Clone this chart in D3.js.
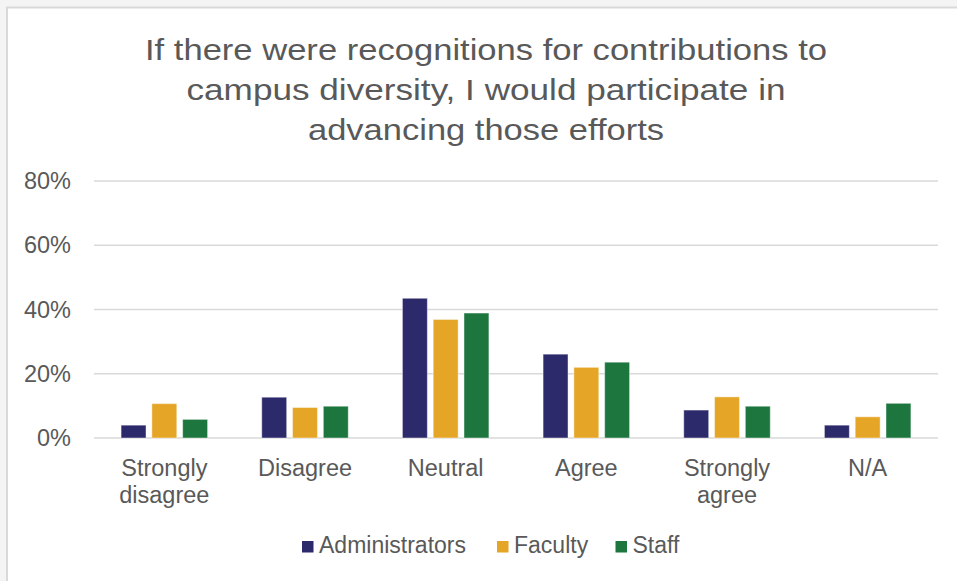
<!DOCTYPE html>
<html><head><meta charset="utf-8">
<script src="https://cdn.jsdelivr.net/npm/d3@7"></script>
<style>
html,body{margin:0;padding:0;background:#f4f4f4;}
svg{display:block;}
text{font-family:Arial,"Liberation Sans",sans-serif;fill:#595959;}
</style></head>
<body>
<svg id="chart" width="957" height="581"></svg>
<script>
const titleLines = ["If there were recognitions for contributions to","campus diversity, I would participate in","advancing those efforts"];
const categories = ["Strongly disagree","Disagree","Neutral","Agree","Strongly agree","N/A"];
const categoryLines = [["Strongly","disagree"],["Disagree"],["Neutral"],["Agree"],["Strongly","agree"],["N/A"]];
const seriesNames = ["Administrators","Faculty","Staff"];
const administrators = [4.0, 12.7, 43.5, 26.1, 8.7, 4.0];
const faculty = [10.7, 9.5, 36.9, 22.0, 12.8, 6.6];
const staff = [5.8, 9.9, 38.9, 23.6, 9.9, 10.8];
const yTicks = [0, 20, 40, 60, 80];
const colors = ["#2c2a6b", "#e5a526", "#1d763e"];

(function(){
const seriesValues = [administrators, faculty, staff];
const svg = d3.select("#chart");

// frame
svg.append("rect").attr("x",7).attr("y",7.5).attr("width",960).attr("height",600)
  .attr("fill","#ffffff").attr("stroke","#d9d9d9").attr("stroke-width",2);

// title (stretched horizontally like the reference rendering)
const titleWidths = [682, 599, 356];
svg.append("text").attr("text-anchor","middle").attr("font-size",29.5)
  .selectAll("tspan").data(titleLines).join("tspan")
  .attr("x",486).attr("y",(d,i)=>59.5+i*40)
  .attr("textLength",(d,i)=>titleWidths[i]).attr("lengthAdjust","spacingAndGlyphs")
  .text(d=>d);

const pl = 94, pr = 938, pt = 181, pb = 438;
const x0 = d3.scaleBand().domain(categories).range([pl,pr]).paddingInner(0.385).paddingOuter(0.1925);
const x1 = d3.scaleBand().domain(seriesNames).range([0,x0.bandwidth()]).paddingInner(0.19);
const y = d3.scaleLinear().domain([0,80]).range([pb,pt]);

// gridlines
svg.append("g").selectAll("line").data(yTicks).join("line")
  .attr("x1",pl).attr("x2",pr).attr("y1",d=>y(d)).attr("y2",d=>y(d))
  .attr("stroke","#d9d9d9").attr("stroke-width",1.5);

// y axis labels
const yAxis = svg.append("g").attr("transform",`translate(${pl},0)`)
  .call(d3.axisLeft(y).tickValues(yTicks).tickFormat(d=>d+"%").tickSize(0).tickPadding(23));
yAxis.select(".domain").remove();
yAxis.selectAll("text").attr("font-size",23.5).attr("fill","#595959")
  .attr("font-family","Arial, 'Liberation Sans', sans-serif");

// bars
const groups = svg.append("g").selectAll("g").data(categories).join("g")
  .attr("transform",d=>`translate(${x0(d)},0)`);
groups.selectAll("rect").data((d,i)=>seriesNames.map((s,j)=>({s, v:seriesValues[j][i], j})))
  .join("rect")
  .attr("x",d=>x1(d.s)).attr("width",x1.bandwidth())
  .attr("y",d=>y(d.v)).attr("height",d=>y(0)-y(d.v))
  .attr("fill",d=>colors[d.j]).attr("stroke","rgba(255,255,255,0.45)").attr("stroke-width",1);

// x labels
const xl = svg.append("g");
categories.forEach((c,i)=>{
  xl.append("text").attr("text-anchor","middle").attr("font-size",23.5)
    .selectAll("tspan").data(categoryLines[i]).join("tspan")
    .attr("x",x0(c)+x0.bandwidth()/2).attr("y",(d,k)=>476+k*27).text(d=>d);
});

// legend
const legendX = [302, 497, 615.5];
const lg = svg.append("g");
seriesNames.forEach((s,i)=>{
  lg.append("rect").attr("x",legendX[i]).attr("y",541).attr("width",11.5).attr("height",11.5).attr("fill",colors[i]);
  lg.append("text").attr("x",legendX[i]+17).attr("y",552.5).attr("font-size",23).text(s);
});
})();
</script>
</body></html>
